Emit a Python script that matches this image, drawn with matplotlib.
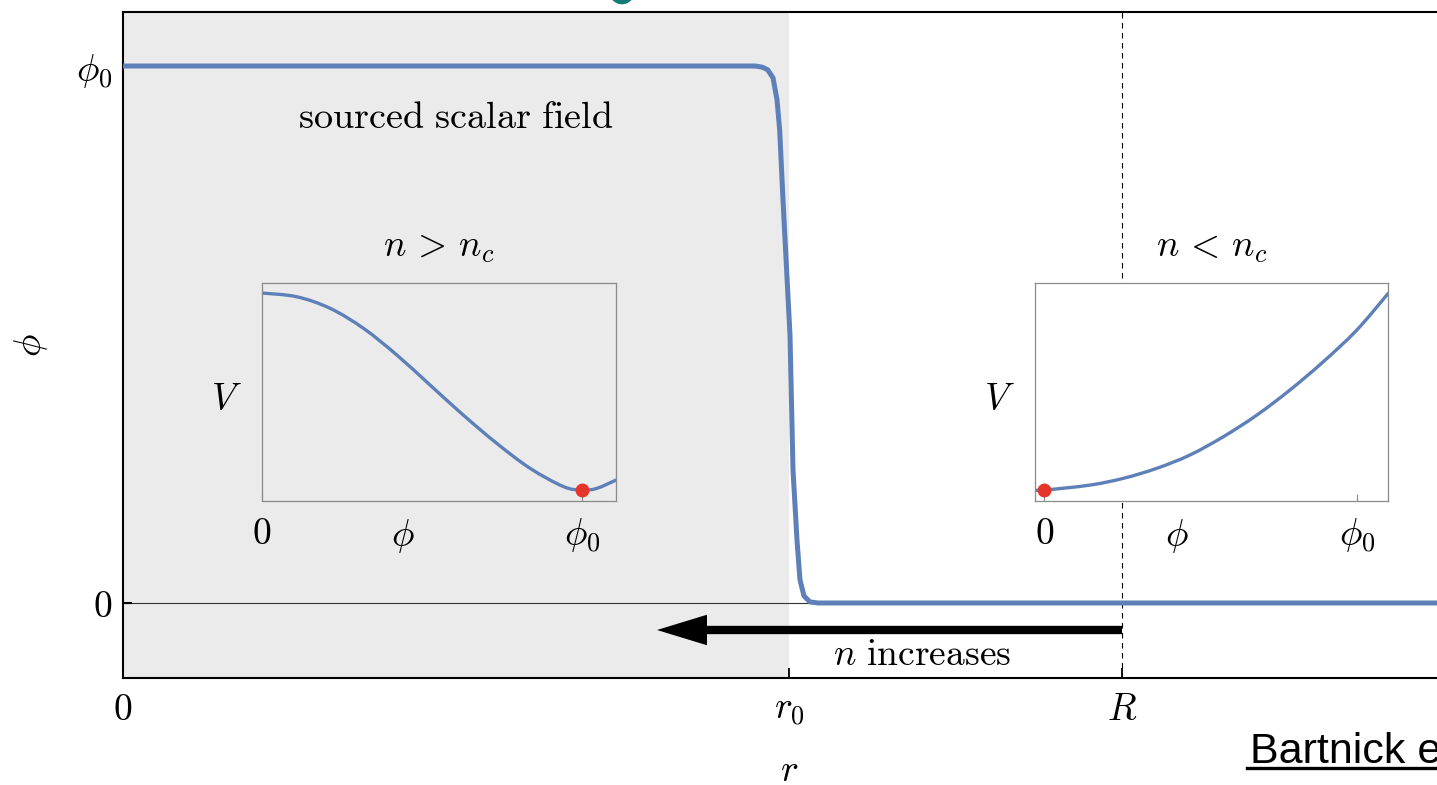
import matplotlib
matplotlib.use("Agg")
import matplotlib.pyplot as plt
from matplotlib.patches import Ellipse, PathPatch
from matplotlib.path import Path
from matplotlib.lines import Line2D

plt.rcParams["mathtext.fontset"] = "cm"

# radial profile of the sourced field, phi(r) in units of phi_0
r_profile = [0.0, 0.949, 0.9595, 0.968, 0.976, 0.982, 0.986, 0.991, 1.0015,
             1.006, 1.012, 1.0165, 1.0225, 1.0315, 1.0435, 2.0]
phi_profile = [1.0, 1.0, 0.998, 0.993, 0.978, 0.937, 0.881, 0.750, 0.499,
               0.248, 0.117, 0.043, 0.013, 0.002, 0.0, 0.0]

# effective potential inside the source (n > n_c)
phi_hi = [0.0, 0.108, 0.2125, 0.317, 0.421, 0.525, 0.629, 0.733, 0.8375,
          0.942, 1.0, 1.046, 1.106]
V_hi = [0.954, 0.937, 0.884, 0.792, 0.670, 0.532, 0.394, 0.265, 0.150,
        0.066, 0.050, 0.058, 0.096]

# effective potential outside (n < n_c)
phi_lo = [-0.03, 0.0, 0.146, 0.253, 0.360, 0.466, 0.573, 0.680, 0.786,
          0.893, 1.0, 1.101]
V_lo = [0.05, 0.05, 0.073, 0.104, 0.150, 0.211, 0.295, 0.394, 0.509,
        0.639, 0.784, 0.953]

r0 = 1.0
R = 1.5
x_ticks = [0.0, r0, R]
x_ticklabels = [r"$\mathbf{0}$", r"$r_0$", r"$R$"]
y_ticks = [0.0, 1.0]
y_ticklabels = [r"$0$", r"$\phi_0$"]

BLUE = "#5E80B8"
SHADE = "#EBEBEB"
RED = "#E5352A"
FS = 27

W, H = 1437, 785
fig = plt.figure(figsize=(W / 100, H / 100), dpi=100)


def px_axes(x0, y0, x1, y1):
    return [x0 / W, 1 - y1 / H, (x1 - x0) / W, (y1 - y0) / H]


def smooth_curve(a, xs, ys, **kw):
    """Draw a curve through the given points as a Catmull-Rom Bezier path."""
    pts = list(zip(xs, ys))
    n = len(pts)
    verts = [pts[0]]
    codes = [Path.MOVETO]
    for i in range(n - 1):
        p0 = pts[i - 1] if i > 0 else pts[i]
        p1, p2 = pts[i], pts[i + 1]
        p3 = pts[i + 2] if i + 2 < n else pts[i + 1]
        c1 = (p1[0] + (p2[0] - p0[0]) / 6, p1[1] + (p2[1] - p0[1]) / 6)
        c2 = (p2[0] - (p3[0] - p1[0]) / 6, p2[1] - (p3[1] - p1[1]) / 6)
        verts += [c1, c2, p2]
        codes += [Path.CURVE4] * 3
    a.add_patch(PathPatch(Path(verts, codes), fill=False, **kw))


ax = fig.add_axes(px_axes(123, 12, 1455, 678))
ax.set_xlim(0, 2.0)
ax.set_ylim(-0.1397, 1.1006)
ax.axvspan(0, r0, color=SHADE, lw=0, zorder=0)
ax.axhline(0, color="#333333", lw=0.8, zorder=1)
ax.axvline(R, color="black", lw=0.8, ls=(0, (5, 4)), zorder=1)
ax.plot(r_profile, phi_profile, color=BLUE, lw=3.6, solid_capstyle="round",
        solid_joinstyle="round", zorder=3)

for s in ax.spines.values():
    s.set_linewidth(1.5)
ax.set_xticks(x_ticks)
ax.set_xticklabels(x_ticklabels, fontsize=FS)
ax.set_yticks(y_ticks)
ax.set_yticklabels(y_ticklabels, fontsize=FS)
ax.tick_params(axis="x", direction="in", length=7, width=1.3, pad=10)
ax.tick_params(axis="y", direction="in", length=6.5, width=1.5, pad=8)
ax.set_xlabel(r"$r$", fontsize=FS)
ax.xaxis.set_label_coords(0.5, -0.113)
ax.set_ylabel(r"$\phi$", fontsize=FS)
ax.yaxis.set_label_coords(-0.055, 0.5)

ax.text(0.5, 0.903, r"$\mathrm{sourced\ scalar\ field}$", fontsize=27.5,
        ha="center", va="center")
ax.annotate("", xy=(0.8018, -0.0503), xytext=(R, -0.0503),
            arrowprops=dict(arrowstyle="simple,head_length=1.8,head_width=1.1,tail_width=0.3",
                            mutation_scale=20, color="black", lw=0,
                            shrinkA=0, shrinkB=0), zorder=4)
ax.text(1.2, -0.097, r"$n\ \mathrm{increases}$", fontsize=FS,
        ha="center", va="center")


def inset(rect, face, xs, ys, xlim, dot_x, dot_y, phi_pos, title):
    a = fig.add_axes(rect)
    a.set_facecolor(face)
    smooth_curve(a, xs, ys, edgecolor=BLUE, lw=2.4, capstyle="round",
                 zorder=2)
    a.plot([dot_x], [dot_y], "o", color=RED, ms=9, zorder=3)
    a.set_xlim(*xlim)
    a.set_ylim(0, 1)
    for s in a.spines.values():
        s.set_color("#8A8A8A")
        s.set_linewidth(0.9)
    a.set_yticks([])
    a.set_xticks([0.0, 1.0])
    a.set_xticklabels([r"$\mathbf{0}$", r"$\phi_0$"], fontsize=FS)
    a.tick_params(axis="x", direction="in", length=5, width=0.8,
                  color="#8A8A8A", pad=11)
    a.text(phi_pos, -0.073, r"$\phi$", fontsize=FS, ha="center", va="top",
           transform=a.get_xaxis_transform())
    a.text(-0.1, 0.463, r"$V$", fontsize=FS, ha="center", va="center",
           transform=a.transAxes)
    a.text(0.5, 1.165, title, fontsize=FS, ha="center", va="center",
           transform=a.transAxes)
    return a


ax_hi = inset(px_axes(262, 283, 616, 501), SHADE, phi_hi, V_hi, (0, 1.106),
              1.0, 0.05, 0.44, r"$n\,>\,n_c$")
ax_lo = inset(px_axes(1035, 283, 1388, 501), "white", phi_lo, V_lo,
              (-0.03, 1.10), 0.0, 0.05, 0.425, r"$n\,<\,n_c$")

# citation and page decoration
fig.text(1250 / W, 1 - 763 / H, "Bartnick et al.", fontsize=31,
         family="Liberation Sans", ha="left", va="baseline")
fig.add_artist(Line2D([1247 / W, 1.0], [1 - 768 / H] * 2,
                      transform=fig.transFigure, color="black", lw=2.4))
fig.add_artist(Ellipse((622 / W, 1 + 8.3 / H), 25.2 / W, 25.2 / H,
                       transform=fig.transFigure, color="#137B73", lw=0))

fig.savefig("out.png", dpi=100)
